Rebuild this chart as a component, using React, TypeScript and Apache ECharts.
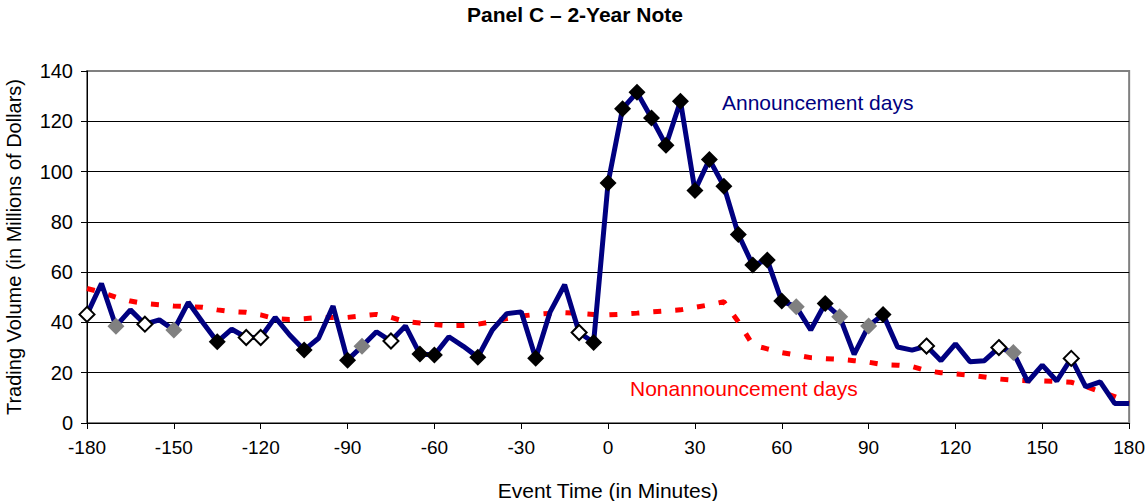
import React, { useEffect, useRef } from "react";
import * as echarts from "echarts";

const eventTimes = [
  -180, -175, -170, -165, -160, -155, -150, -145, -140, -135, -130, -125, -120, -115, -110, -105,
  -100, -95, -90, -85, -80, -75, -70, -65, -60, -55, -50, -45, -40, -35, -30, -25, -20, -15, -10, -5,
  0, 5, 10, 15, 20, 25, 30, 35, 40, 45, 50, 55, 60, 65, 70, 75, 80, 85, 90, 95, 100, 105, 110, 115,
  120, 125, 130, 135, 140, 145, 150, 155, 160, 165, 170, 175, 180,
];

const announcementVolume = [
  43.2, 55.5, 38.5, 45, 39.3, 41, 37, 48, 40, 32.3, 37.3, 34, 34, 42, 35, 29,
  33.7, 46.5, 25, 30.5, 36.3, 32.6, 38.6, 27.4, 27, 34.3, 30.5, 26.2, 37, 43.5, 44.2, 25.8, 44.2, 55, 36, 32,
  95.5, 125, 131.5, 121.3, 110.5, 128, 92.5, 104.8, 94.2, 75, 62.8, 64.8, 48.5, 46.2, 37, 47.5, 42.3, 27.3, 38.6, 43.2, 30.2, 29, 30.6, 24.8,
  31.5, 24.4, 24.8, 30, 28, 16.4, 23, 16.7, 25.7, 14.4, 16.4, 7.8, 7.8,
];

// b = black diamond, g = gray diamond, w = hollow diamond, "" = no marker
const markerKinds = [
  "w", "", "g", "", "w", "", "g", "", "", "b", "", "w", "w", "", "", "b",
  "", "", "b", "g", "", "w", "", "b", "b", "", "", "b", "", "", "", "b", "", "", "w", "b",
  "b", "b", "b", "b", "b", "b", "b", "b", "b", "b", "b", "b", "b", "g", "", "b", "g", "", "g", "b", "", "", "w", "",
  "", "", "", "w", "g", "", "", "", "w", "", "", "", "",
];

const nonannouncementVolume = [
  53.5, 52, 50, 48.5, 47.5, 47, 46.5, 46.3, 46, 45, 44.3, 44, 43, 41.5, 41.2, 41.5,
  42, 42, 42, 42.6, 43.2, 42, 40.3, 39.8, 39.2, 38.7, 38.8, 39.3, 40.3, 41.5, 42.5, 43.2, 43.6, 43.9, 43.6, 43.2,
  43, 43.3, 43.7, 44.2, 44.6, 45, 46, 47, 48.2, 40.3, 31, 29.5, 28, 27, 26, 25.6, 25.3, 24.8, 24.2, 23.2, 23, 22.5, 20.8, 20,
  19.5, 19, 18.3, 17.5, 17, 16.8, 16.7, 16.5, 16.2, 14.5, 12.5, 10.5, 8,
];

const xMin = -180;
const xMax = 180;
const xStep = 30;
const yMin = 0;
const yMax = 140;
const yStep = 20;

const FONT = '"Liberation Sans", Arial, sans-serif';

export default function App() {
  const ref = useRef<HTMLDivElement>(null);

  useEffect(() => {
    if (!ref.current) return;
    const chart = echarts.init(ref.current, undefined, { renderer: "svg" });

    const blueData = eventTimes.map((t, i) => {
      const kind = markerKinds[i];
      if (kind === "b") {
        return { value: [t, announcementVolume[i]], symbol: "diamond", symbolSize: 17, itemStyle: { color: "#000000", borderWidth: 0 } };
      }
      if (kind === "g") {
        return { value: [t, announcementVolume[i]], symbol: "diamond", symbolSize: 17, itemStyle: { color: "#808080", borderWidth: 0 } };
      }
      if (kind === "w") {
        return { value: [t, announcementVolume[i]], symbol: "diamond", symbolSize: 15, itemStyle: { color: "#ffffff", borderColor: "#000000", borderWidth: 2 } };
      }
      return { value: [t, announcementVolume[i]], symbol: "none" };
    });

    const redData = eventTimes.map((t, i) => [t, nonannouncementVolume[i]]);

    chart.setOption({
      animation: false,
      backgroundColor: "#ffffff",
      textStyle: { fontFamily: FONT },
      grid: {
        left: 87,
        right: 18,
        top: 71,
        bottom: 78,
        show: true,
        borderColor: "#808080",
        borderWidth: 2,
        backgroundColor: "transparent",
      },
      xAxis: {
        type: "value",
        min: xMin,
        max: xMax,
        interval: xStep,
        axisLine: { show: true, onZero: false, lineStyle: { color: "#000000", width: 1 } },
        axisTick: { show: true, length: 6, lineStyle: { color: "#000000" } },
        axisLabel: { fontSize: 19, color: "#000000", margin: 15, fontFamily: FONT },
        splitLine: { show: false },
      },
      yAxis: {
        type: "value",
        min: yMin,
        max: yMax,
        interval: yStep,
        axisLine: { show: true, onZero: false, lineStyle: { color: "#000000", width: 1 } },
        axisTick: { show: true, length: 6, lineStyle: { color: "#000000" } },
        axisLabel: { fontSize: 20, color: "#000000", margin: 14, fontFamily: FONT },
        splitLine: { show: true, lineStyle: { color: ["#000000", "#000000", "#000000", "#000000", "#000000", "#000000", "#000000", "#808080"], width: 1 } },
      },
      series: [
        {
          name: "Nonannouncement days",
          type: "line",
          data: redData,
          symbol: "none",
          z: 2,
          lineStyle: { color: "#ff0000", width: 5, type: [8, 14], cap: "butt" },
          emphasis: { disabled: true },
        },
        {
          name: "Announcement days",
          type: "line",
          data: blueData,
          showAllSymbol: true,
          z: 3,
          itemStyle: { color: "#000080" },
          lineStyle: { color: "#000080", width: 5 },
          emphasis: { disabled: true },
        },
      ],
      graphic: [
        {
          type: "text",
          x: 575,
          y: 14,
          style: { text: "Panel C – 2-Year Note", font: `bold 21px ${FONT}`, fill: "#000000", textAlign: "center", textVerticalAlign: "middle" },
        },
        {
          type: "text",
          x: 14,
          y: 247,
          rotation: Math.PI / 2,
          style: { text: "Trading Volume (in Millions of Dollars)", font: `20px ${FONT}`, fill: "#000000", textAlign: "center", textVerticalAlign: "middle" },
        },
        {
          type: "text",
          x: 608,
          y: 490,
          style: { text: "Event Time (in Minutes)", font: `21px ${FONT}`, fill: "#000000", textAlign: "center", textVerticalAlign: "middle" },
        },
        {
          type: "text",
          x: 722,
          y: 102,
          style: { text: "Announcement days", font: `21px ${FONT}`, fill: "#000080", textAlign: "left", textVerticalAlign: "middle" },
        },
        {
          type: "text",
          x: 630,
          y: 388,
          style: { text: "Nonannouncement days", font: `21px ${FONT}`, fill: "#ff0000", textAlign: "left", textVerticalAlign: "middle" },
        },
      ],
    });

    return () => {
      chart.dispose();
    };
  }, []);

  return <div ref={ref} style={{ position: "fixed", left: 0, top: 0, width: 1148, height: 501 }} />;
}
